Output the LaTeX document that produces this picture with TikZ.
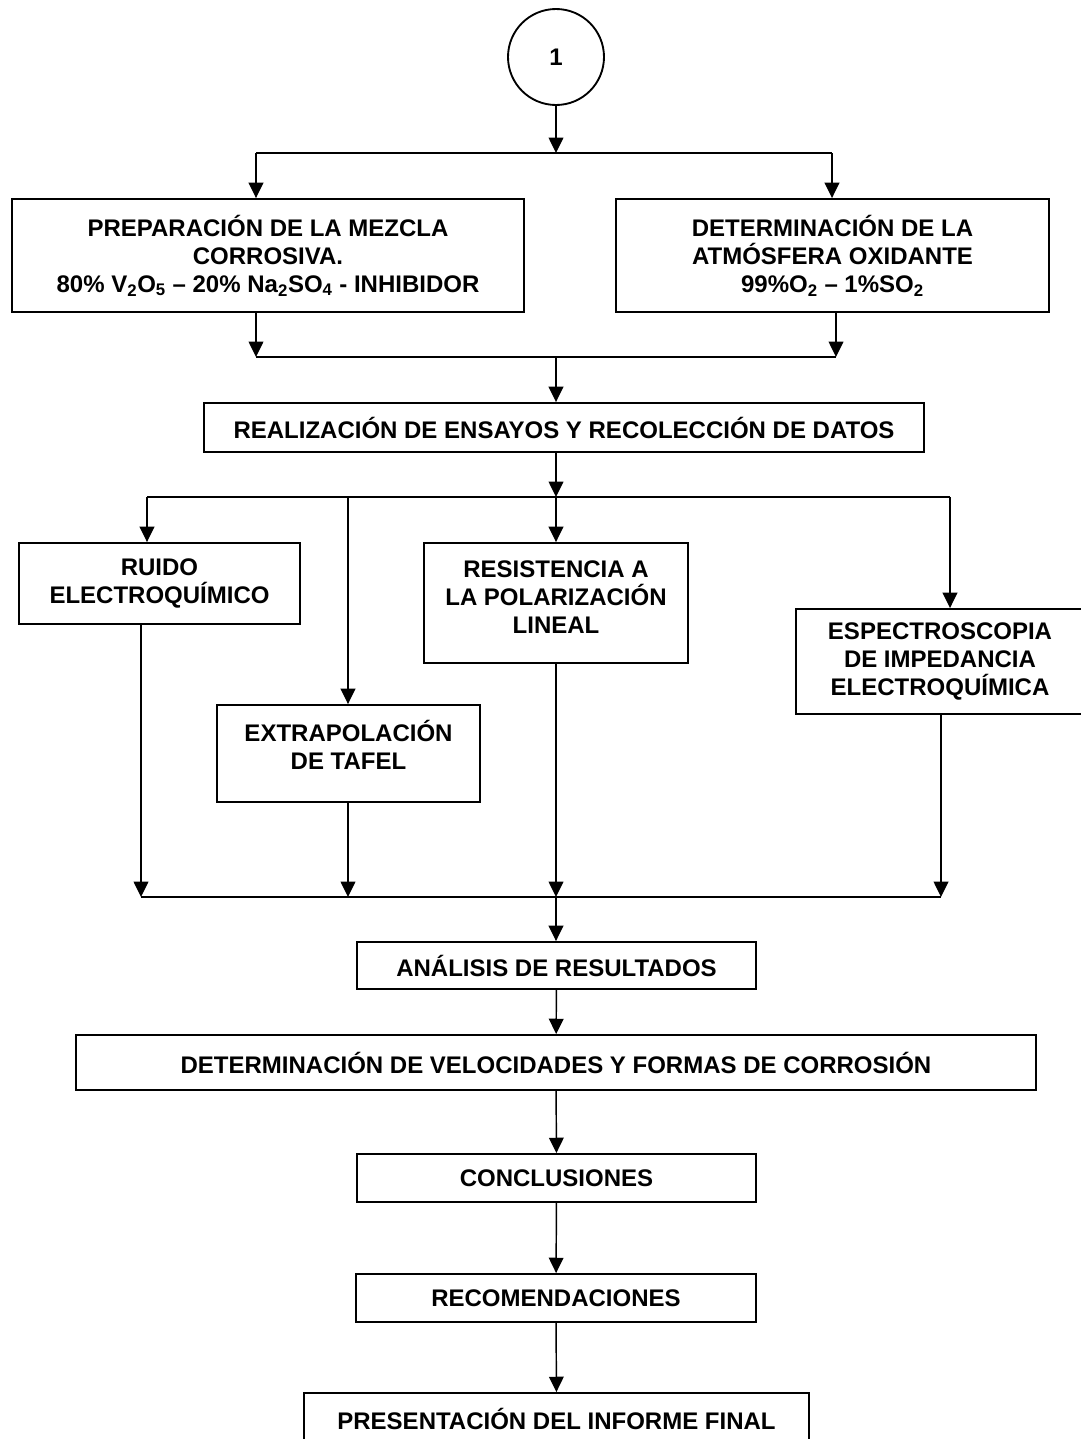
\documentclass[tikz,border=0pt]{standalone}
\usepackage{fontspec}
\setmainfont{Liberation Sans}
\usetikzlibrary{arrows.meta}

\begin{document}
\begin{tikzpicture}[x=0.75pt, y=-0.75pt,
    caja/.style={draw, line width=1.4pt, align=center, inner sep=0pt,
        font=\bfseries\fontsize{18}{21}\selectfont},
    flecha/.style={-{Triangle[width=11pt,length=11.5pt]}, line width=1.1pt},
    linea/.style={line width=1.1pt}]

    \useasboundingbox (0,0) rectangle (1081,1439);
    \clip (0,0) rectangle (1081,1439);

    \node[caja, circle, minimum size=72pt] (uno) at (556,57) {1};

    \node[caja, minimum width=384pt, minimum height=84.75pt] (mezcla) at (268,255.5)
        {PREPARACIÓN DE LA MEZCLA\\CORROSIVA.\\80\% V\textsubscript{2}O\textsubscript{5} – 20\% Na\textsubscript{2}SO\textsubscript{4} - INHIBIDOR};
    \node[caja, minimum width=324.75pt, minimum height=84.75pt] (atmosfera) at (832.5,255.5)
        {DETERMINACIÓN DE LA\\ATMÓSFERA OXIDANTE\\99\%O\textsubscript{2} – 1\%SO\textsubscript{2}};
    \node[caja, minimum width=540pt, minimum height=36.75pt] (ensayos) at (564,427.5)
        {REALIZACIÓN DE ENSAYOS Y RECOLECCIÓN DE DATOS};

    \node[caja, minimum width=210.75pt, minimum height=60.75pt] (ruido) at (159.5,583.5)
        {RUIDO\\ELECTROQUÍMICO};
    \node[caja, minimum width=197.25pt, minimum height=72.75pt] (tafel) at (348.5,753.5)
        {EXTRAPOLACIÓN\\DE TAFEL\\[-8pt]\mbox{}};
    \node[caja, minimum width=198pt, minimum height=90pt] (polarizacion) at (556,603)
        {RESISTENCIA A\\LA POLARIZACIÓN\\LINEAL\\[-12pt]\mbox{}};
    \node[caja, minimum width=216pt, minimum height=78.75pt] (impedancia) at (940,661.5)
        {ESPECTROSCOPIA\\DE IMPEDANCIA\\ELECTROQUÍMICA};

    \node[caja, minimum width=299.25pt, minimum height=35.25pt] (analisis) at (556.5,965.5)
        {ANÁLISIS DE RESULTADOS};
    \node[caja, minimum width=720pt, minimum height=41.25pt] (velocidades) at (556,1062.5)
        {DETERMINACIÓN DE VELOCIDADES Y FORMAS DE CORROSIÓN};
    \node[caja, minimum width=299.25pt, minimum height=36pt] (conclusiones) at (556.5,1178)
        {CONCLUSIONES};
    \node[caja, minimum width=300pt, minimum height=36pt] (recomendaciones) at (556,1298)
        {RECOMENDACIONES};
    \node[caja, minimum width=378.75pt, minimum height=38.25pt] (informe) at (556.5,1418.5)
        {PRESENTACIÓN DEL INFORME FINAL};

    \coordinate (r1) at (556,153);
    \coordinate (r1i) at (256,153);
    \coordinate (r1d) at (832,153);
    \coordinate (u1) at (556,357);
    \coordinate (u1i) at (256,357);
    \coordinate (u1d) at (836,357);

    \draw[flecha] (uno) -- (r1);
    \draw[linea] (r1i) -- (r1d);
    \draw[flecha] (r1i) -- (r1i |- mezcla.north);
    \draw[flecha] (r1d) -- (r1d |- atmosfera.north);
    \draw[flecha] (u1i |- mezcla.south) -- (u1i);
    \draw[flecha] (u1d |- atmosfera.south) -- (u1d);
    \draw[linea] (u1i) -- (u1d);
    \draw[flecha] (u1) -- (u1 |- ensayos.north);

    \coordinate (r2) at (556,497);
    \coordinate (r2a) at (147,497);
    \coordinate (r2b) at (348,497);
    \coordinate (r2d) at (950,497);
    \coordinate (u2) at (556,897);
    \coordinate (u2a) at (141,897);
    \coordinate (u2b) at (348,897);
    \coordinate (u2d) at (941,897);

    \draw[flecha] (r2 |- ensayos.south) -- (r2);
    \draw[linea] (r2a) -- (r2d);
    \draw[flecha] (r2a) -- (r2a |- ruido.north);
    \draw[flecha] (r2b) -- (r2b |- tafel.north);
    \draw[flecha] (r2) -- (r2 |- polarizacion.north);
    \draw[flecha] (r2d) -- (r2d |- impedancia.north);

    \draw[flecha] (u2a |- ruido.south) -- (u2a);
    \draw[flecha] (u2b |- tafel.south) -- (u2b);
    \draw[flecha] (u2 |- polarizacion.south) -- (u2);
    \draw[flecha] (u2d |- impedancia.south) -- (u2d);
    \draw[linea] (u2a) -- (u2d);

    \draw[flecha] (u2) -- (u2 |- analisis.north);
    \draw[flecha] (analisis) -- (velocidades);
    \draw[flecha] (velocidades) -- (conclusiones);
    \draw[flecha] (conclusiones) -- (recomendaciones);
    \draw[flecha] (recomendaciones) -- (informe);
\end{tikzpicture}
\end{document}
